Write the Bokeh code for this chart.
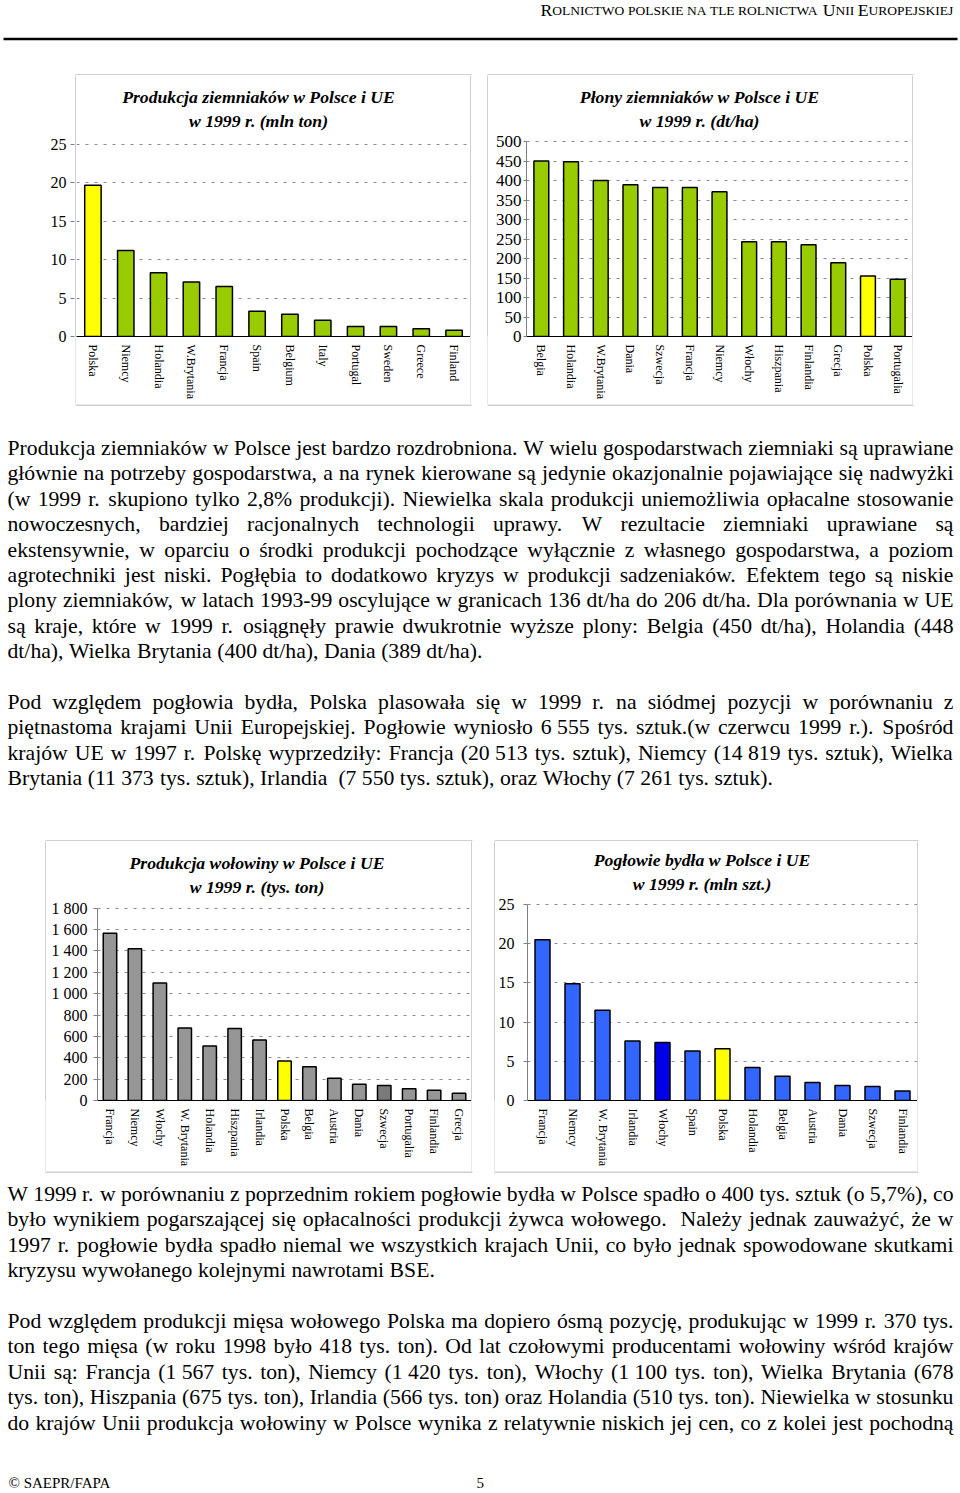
import math
from bokeh.plotting import figure
from bokeh.models import (ColumnDataSource, Range1d, FactorRange, FixedTicker, Grid, Spacer)
from bokeh.layouts import column, row
from bokeh.core.properties import value
from bokeh.embed import file_html
from bokeh.resources import INLINE

SERIF = "Liberation Serif"

# ------------------------------------------------------------------ data
potato_prod_countries = ["Polska", "Niemcy", "Holandia", "W.Brytania", "Francja", "Spain",
                         "Belgium", "Italy", "Portugal", "Sweden", "Greece", "Finland"]
potato_prod_values = [19.7, 11.2, 8.3, 7.1, 6.5, 3.3, 2.9, 2.1, 1.3, 1.3, 1.0, 0.8]
potato_prod_ticks = [0, 5, 10, 15, 20, 25]

potato_yield_countries = ["Belgia", "Holandia", "W.Brytania", "Dania", "Szwecja", "Francja",
                          "Niemcy", "Włochy", "Hiszpania", "Finlandia", "Grecja", "Polska",
                          "Portugalia"]
potato_yield_values = [450, 448, 400, 389, 382, 382, 371, 243, 243, 235, 189, 155, 147]
potato_yield_ticks = [0, 50, 100, 150, 200, 250, 300, 350, 400, 450, 500]

beef_countries = ["Francja", "Niemcy", "Włochy", "W. Brytania", "Holandia", "Hiszpania",
                  "Irlandia", "Polska", "Belgia", "Austria", "Dania", "Szwecja",
                  "Portugalia", "Finlandia", "Grecja"]
beef_values = [1567, 1420, 1100, 678, 510, 675, 566, 370, 316, 208, 152, 140, 109, 96, 68]
beef_ticks = [0, 200, 400, 600, 800, 1000, 1200, 1400, 1600, 1800]

cattle_countries = ["Francja", "Niemcy", "W. Brytania", "Irlandia", "Włochy", "Spain",
                    "Polska", "Holandia", "Belgia", "Austria", "Dania", "Szwecja", "Finlandia"]
cattle_values = [20.5, 14.9, 11.5, 7.6, 7.4, 6.3, 6.6, 4.2, 3.1, 2.3, 1.9, 1.8, 1.2]
cattle_ticks = [0, 5, 10, 15, 20, 25]

title_potato_prod = ["Produkcja ziemniaków w Polsce i UE", "w 1999 r. (mln ton)"]
title_potato_yield = ["Płony ziemniaków w Polsce i UE", "w 1999 r. (dt/ha)"]
title_beef = ["Produkcja wołowiny w Polsce i UE", "w 1999 r. (tys. ton)"]
title_cattle = ["Pogłowie bydła w Polsce i UE", "w 1999 r. (mln szt.)"]

header_text = "Rolnictwo polskie na tle rolnictwa Unii Europejskiej"

NB = "\u00a0"
para1 = [
    "Produkcja ziemniaków w Polsce jest bardzo rozdrobniona. W wielu gospodarstwach ziemniaki są uprawiane",
    "głównie na potrzeby gospodarstwa, a na rynek kierowane są jedynie okazjonalnie pojawiające się nadwyżki",
    "(w 1999 r. skupiono tylko 2,8% produkcji). Niewielka skala produkcji uniemożliwia opłacalne stosowanie",
    "nowoczesnych, bardziej racjonalnych technologii uprawy. W rezultacie ziemniaki uprawiane są",
    "ekstensywnie, w oparciu o środki produkcji pochodzące wyłącznie z własnego gospodarstwa, a poziom",
    "agrotechniki jest niski. Pogłębia to dodatkowo kryzys w produkcji sadzeniaków. Efektem tego są niskie",
    "plony ziemniaków, w latach 1993-99 oscylujące w granicach 136 dt/ha do 206 dt/ha. Dla porównania w UE",
    "są kraje, które w 1999 r. osiągnęły prawie dwukrotnie wyższe plony: Belgia (450 dt/ha), Holandia (448",
    "dt/ha), Wielka Brytania (400 dt/ha), Dania (389 dt/ha).",
]
para2 = [
    "Pod względem pogłowia bydła, Polska plasowała się w 1999 r. na siódmej pozycji w porównaniu z",
    "piętnastoma krajami Unii Europejskiej. Pogłowie wyniosło 6" + NB + "555 tys. sztuk.(w czerwcu 1999 r.). Spośród",
    "krajów UE w 1997 r. Polskę wyprzedziły: Francja (20" + NB + "513 tys. sztuk), Niemcy (14" + NB + "819 tys. sztuk), Wielka",
    "Brytania (11" + NB + "373 tys. sztuk), Irlandia  (7" + NB + "550 tys. sztuk), oraz Włochy (7" + NB + "261 tys. sztuk).",
]
para3 = [
    "W 1999 r. w porównaniu z poprzednim rokiem pogłowie bydła w Polsce spadło o 400 tys. sztuk (o 5,7%), co",
    "było wynikiem pogarszającej się opłacalności produkcji żywca wołowego.  Należy jednak zauważyć, że w",
    "1997 r. pogłowie bydła spadło niemal we wszystkich krajach Unii, co było jednak spowodowane skutkami",
    "kryzysu wywołanego kolejnymi nawrotami BSE.",
]
para4 = [
    "Pod względem produkcji mięsa wołowego Polska ma dopiero ósmą pozycję, produkując w 1999 r. 370 tys.",
    "ton tego mięsa (w roku 1998 było 418 tys. ton). Od lat czołowymi producentami wołowiny wśród krajów",
    "Unii są: Francja (1" + NB + "567 tys. ton), Niemcy (1" + NB + "420 tys. ton), Włochy (1" + NB + "100 tys. ton), Wielka Brytania (678",
    "tys. ton), Hiszpania (675 tys. ton), Irlandia (566 tys. ton) oraz Holandia (510 tys. ton). Niewielka w stosunku",
    "do krajów Unii produkcja wołowiny w Polsce wynika z relatywnie niskich jej cen, co z kolei jest pochodną",
]
footer_left = "© SAEPR/FAPA"
page_number = "5"

# ------------------------------------------------------------------ styles
GREEN = "#99CC00"
YELLOW = "#FFFF00"
GRAY = "#969696"
DARKGRAY = "#7a7a7a"
BLUE = "#3366FF"
DARKBLUE = "#0000E6"
GRIDC = "#8c8c8c"
BOXC = "#a0a0a0"
AXISC = "#7f7f7f"

TIMES = {' ': 250, '!': 333, '"': 408, '%': 833, '&': 778, "'": 180, '(': 333, ')': 333,
         ',': 250, '-': 333, '.': 250, '/': 278, ':': 278, ';': 278, '?': 444,
         'A': 722, 'B': 667, 'C': 667, 'D': 722, 'E': 611, 'F': 556, 'G': 722, 'H': 722,
         'I': 333, 'J': 389, 'K': 722, 'L': 611, 'M': 889, 'N': 722, 'O': 722, 'P': 556,
         'Q': 722, 'R': 667, 'S': 556, 'T': 611, 'U': 722, 'V': 722, 'W': 944, 'X': 722,
         'Y': 722, 'Z': 611,
         'a': 444, 'b': 500, 'c': 444, 'd': 500, 'e': 444, 'f': 333, 'g': 500, 'h': 500,
         'i': 278, 'j': 278, 'k': 500, 'l': 278, 'm': 778, 'n': 500, 'o': 500, 'p': 500,
         'q': 500, 'r': 333, 's': 389, 't': 278, 'u': 500, 'v': 500, 'w': 722, 'x': 500,
         'y': 500, 'z': 444,
         'ą': 444, 'ć': 444, 'ę': 444, 'ł': 278, 'ń': 500, 'ó': 500, 'ś': 389, 'ź': 444,
         'ż': 444, 'Ł': 611, 'Ś': 556, 'Ż': 611, '©': 760, NB: 250}


def text_width(s, size):
    return sum(TIMES.get(ch, 500) for ch in s) * size / 1000.0


PAGE_W = 960
TEXT_X0 = 7
TEXT_W = 946


# ------------------------------------------------------------------ helpers
def blank_fig(w, h):
    p = figure(width=w, height=h, x_range=Range1d(0, w), y_range=Range1d(h, 0),
               output_backend="svg", toolbar_location=None, title=None,
               x_axis_location=None, y_axis_location=None, min_border=0,
               outline_line_color=None, background_fill_color="white",
               border_fill_color="white")
    p.grid.visible = False
    return p


def vline(h):
    p = figure(width=1, height=h, x_range=Range1d(0, 1), y_range=Range1d(0, 1),
               output_backend="svg", toolbar_location=None, title=None,
               x_axis_location=None, y_axis_location=None, min_border=0,
               outline_line_color=None, background_fill_color=BOXC,
               border_fill_color=BOXC)
    p.grid.visible = False
    return p


def hline(p, x0, x1, y):
    p.line(x=[x0, x1], y=[y, y], line_color=BOXC, line_width=1)


def add_paragraph(store, lines, y0, fs, lh, width, x0, justify_last=False):
    sp = 0.25 * fs
    for i, line in enumerate(lines):
        y = y0 + i * lh
        tokens = line.split(" ")
        nspace = len(tokens) - 1
        natural = sum(text_width(t, fs) for t in tokens) + nspace * sp
        last = (i == len(lines) - 1) and not justify_last
        extra = 0.0 if (last or nspace == 0) else (width - natural) / nspace
        x = x0
        for t in tokens:
            if t:
                store["x"].append(x)
                store["y"].append(y)
                store["t"].append(t.replace(NB, " "))
            x += text_width(t, fs) + sp + extra


def y_range_for(top_tick, frame_h, plot_h):
    # the plotting frame reaches up into the title area; top_tick sits plot_h px above 0
    return Range1d(0, top_tick * frame_h / plot_h)


def bar_chart(cats, vals, colors, ticks, w, h, left, bottom, plot_h, titles, title_xy,
              y_axis=True, ylab_size="16px", tick_out=4, standoff=6, bar_width=0.5,
              y_range=None, overrides=None):
    frame_w = w - left
    frame_h = h - bottom
    if y_range is None:
        y_range = y_range_for(ticks[-1], frame_h, plot_h)
    p = figure(width=w, height=h, x_range=FactorRange(factors=cats), y_range=y_range,
               output_backend="svg", toolbar_location=None, title=None,
               x_axis_location="below", y_axis_location="left" if y_axis else None,
               min_border_left=left, min_border_right=0,
               min_border_top=0, min_border_bottom=bottom,
               outline_line_color=None, background_fill_color="white",
               border_fill_color="white")
    p.center = [r for r in p.center if not isinstance(r, Grid)]
    p.add_layout(Grid(dimension=1, ticker=FixedTicker(ticks=ticks[1:]),
                      grid_line_color=GRIDC, grid_line_dash="3 6", grid_line_width=1))

    src = ColumnDataSource(data=dict(country=cats, value=vals, color=colors))
    p.vbar(x="country", top="value", bottom=0, width=bar_width, source=src,
           fill_color="color", line_color="black", line_width=1.5)

    xa = p.xaxis[0]
    xa.major_label_orientation = "vertical"
    xa.major_tick_out = 0
    xa.major_tick_in = 0
    xa.major_tick_line_color = None
    xa.minor_tick_line_color = None
    xa.axis_line_color = "black"
    xa.major_label_text_font = SERIF
    xa.major_label_text_font_size = "12px"
    xa.major_label_text_color = "black"
    xa.major_label_standoff = 8

    if y_axis:
        ya = p.yaxis[0]
        ya.ticker = FixedTicker(ticks=ticks)
        ya.bounds = (ticks[0], ticks[-1])
        ya.axis_line_color = AXISC
        ya.major_tick_line_color = AXISC
        ya.major_tick_out = tick_out
        ya.major_tick_in = 0
        ya.minor_tick_line_color = None
        ya.major_label_text_font = SERIF
        ya.major_label_text_font_size = ylab_size
        ya.major_label_text_color = "black"
        ya.major_label_standoff = standoff
        if overrides:
            ya.major_label_overrides = overrides

    # title lines: pixel offsets inside the frame converted to the chart's own coordinates
    n = len(cats)
    y_end = y_range.end
    cx, y_a, y_b = title_xy
    tx = cx * n / frame_w
    ty = [(frame_h - yy) * y_end / frame_h for yy in (y_a, y_b)]
    p.text(x=[tx, tx], y=ty, text=titles,
           text_font=value(SERIF), text_font_style="bold italic", text_font_size="17.7px",
           text_color="black", text_align="center", text_baseline="middle")
    return p


def colors_for(cats, base, special):
    return [special.get(c, base) for c in cats]


# ------------------------------------------------------------------ header (0..75)
header = blank_fig(PAGE_W, 75)
big0, small0 = 16.5, 12.6
runs = []
for ch in header_text:
    if ch == " ":
        runs.append((" ", small0))
    elif ch.isupper():
        runs.append((ch, big0))
    else:
        runs.append((ch.upper(), small0))
base_w = sum(text_width(c, s) for c, s in runs)
k = 413.0 / base_w
hx, hy, ht, hs = [], [], [], []
x = 953 - base_w * k
piece, piece_size, piece_x = "", None, x
for c, s in runs + [(" ", small0)]:
    if c == " " or s != piece_size:
        if piece:
            hx.append(piece_x); hy.append(9.5); ht.append(piece)
            hs.append("%.1fpx" % (piece_size * k))
        piece = ""
        piece_size = s
        piece_x = x
    if c != " ":
        if not piece:
            piece_x = x
        piece += c
    x += text_width(c, s) * k
    if c == " ":
        piece_x = x
header.text(x="x", y="y", text="t", source=ColumnDataSource(dict(x=hx, y=hy, t=ht, s=hs)),
            text_font=value(SERIF), text_font_size="s", text_color="black",
            text_baseline="alphabetic", text_align="left")
header.line(x=[3, 957], y=[38.5, 38.5], line_color="black", line_width=2.5)
hline(header, 75, 471, 74.5)
hline(header, 487, 913, 74.5)

# ------------------------------------------------------------------ row 1 (75..404)
R1_TOP = 75
R1_H = 329
y1 = y_range_for(potato_prod_ticks[-1], 336 - R1_TOP, 336 - 144)
labels1 = figure(width=75, height=R1_H, x_range=Range1d(0, 1), y_range=y1,
                 output_backend="svg", toolbar_location=None, title=None,
                 x_axis_location=None, y_axis_location="left",
                 min_border_left=74, min_border_right=0, min_border_top=0,
                 min_border_bottom=404 - 336, outline_line_color=None)
labels1.grid.visible = False
la = labels1.yaxis[0]
la.ticker = FixedTicker(ticks=potato_prod_ticks)
la.bounds = (0, potato_prod_ticks[-1])
la.axis_line_color = None
la.major_tick_line_color = AXISC
la.major_tick_out = 4
la.major_tick_in = 0
la.minor_tick_line_color = None
la.major_label_text_font = SERIF
la.major_label_text_font_size = "16px"
la.major_label_text_color = "black"
la.major_label_standoff = 4

chart1 = bar_chart(potato_prod_countries, potato_prod_values,
                   colors_for(potato_prod_countries, GREEN, {"Polska": YELLOW}),
                   potato_prod_ticks, 394, R1_H, 0, 404 - 336, 336 - 144,
                   title_potato_prod, (258 - 76, 96.7 - R1_TOP, 120 - R1_TOP),
                   y_axis=False, y_range=y1)

chart2 = bar_chart(potato_yield_countries, potato_yield_values,
                   colors_for(potato_yield_countries, GREEN, {"Polska": YELLOW}),
                   potato_yield_ticks, 424, R1_H, 526 - 488, 404 - 336, 336 - 141,
                   title_potato_yield, (699 - 526, 96 - R1_TOP, 120 - R1_TOP),
                   ylab_size="17px", tick_out=3, standoff=2)

row1 = row(labels1, vline(R1_H), chart1, vline(R1_H), Spacer(width=16, height=R1_H),
           vline(R1_H), chart2, vline(R1_H), Spacer(width=47, height=R1_H))

# ------------------------------------------------------------------ text 1 (404..841)
FS = 21.7
LH = 25.4
T1_TOP = 404
text1 = blank_fig(PAGE_W, 437)
st = {"x": [], "y": [], "t": []}
add_paragraph(st, para1, 447.5 - T1_TOP, FS, LH, TEXT_W, TEXT_X0)
add_paragraph(st, para2, 447.5 - T1_TOP + 10 * LH, FS, LH, TEXT_W, TEXT_X0)
text1.text(x="x", y="y", text="t", source=ColumnDataSource(st), text_font=value(SERIF),
           text_font_size="%.1fpx" % FS, text_color="black", text_baseline="alphabetic",
           text_align="left")
hline(text1, 75, 471, 0.5)
hline(text1, 487, 913, 0.5)
hline(text1, 45, 472, 436.5)
hline(text1, 494, 918, 436.5)

# ------------------------------------------------------------------ row 2 (841..1171)
R2_TOP = 841
R2_H = 330
beef_over = {t: ("{:,}".format(t)).replace(",", " ") for t in beef_ticks}
chart3 = bar_chart(beef_countries, beef_values,
                   colors_for(beef_countries, GRAY, {"Polska": YELLOW, "Szwecja": DARKGRAY}),
                   beef_ticks, 425, R2_H, 97 - 46, 1171 - 1101, 1101 - 908,
                   title_beef, (256.5 - 97, 863 - R2_TOP, 886.3 - R2_TOP),
                   ylab_size="16px", tick_out=4, standoff=6, bar_width=0.54,
                   overrides=beef_over)

chart4 = bar_chart(cattle_countries, cattle_values,
                   colors_for(cattle_countries, BLUE, {"Polska": YELLOW, "Włochy": DARKBLUE}),
                   cattle_ticks, 422, R2_H, 526 - 495, 1171 - 1100, 1100 - 904,
                   title_cattle, (701 - 526, 859.7 - R2_TOP, 883 - R2_TOP),
                   ylab_size="16px", tick_out=4, standoff=9)

row2 = row(Spacer(width=45, height=R2_H), vline(R2_H), chart3, vline(R2_H),
           Spacer(width=22, height=R2_H), vline(R2_H), chart4, vline(R2_H),
           Spacer(width=42, height=R2_H))

# ------------------------------------------------------------------ text 2 (1171..1493)
T2_TOP = 1171
text2 = blank_fig(PAGE_W, 322)
st2 = {"x": [], "y": [], "t": []}
add_paragraph(st2, para3, 1193.5 - T2_TOP, FS, LH, TEXT_W, TEXT_X0)
add_paragraph(st2, para4, 1193.5 - T2_TOP + 5 * LH, FS, LH, TEXT_W, TEXT_X0, justify_last=True)
text2.text(x="x", y="y", text="t", source=ColumnDataSource(st2), text_font=value(SERIF),
           text_font_size="%.1fpx" % FS, text_color="black", text_baseline="alphabetic",
           text_align="left")
text2.text(x=[8, 476], y=[1482 - T2_TOP, 1482 - T2_TOP], text=[footer_left, page_number],
           text_font=value(SERIF), text_font_size="15px", text_color="black",
           text_baseline="alphabetic", text_align="left")
hline(text2, 45, 472, 0.5)
hline(text2, 494, 918, 0.5)

page = column(header, row1, text1, row2, text2)
open("out.html", "w").write(file_html(page, INLINE))
